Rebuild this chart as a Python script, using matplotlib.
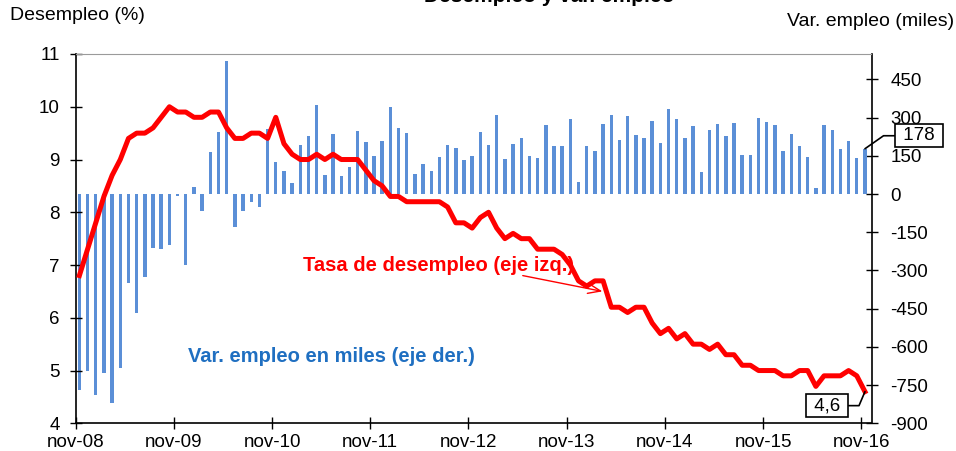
import numpy as np
import matplotlib
matplotlib.use('Agg')
import matplotlib.pyplot as plt

plt.rcParams['font.family'] = ['Liberation Sans', 'DejaVu Sans']
plt.rcParams['axes.unicode_minus'] = False

# monthly data, nov-08 .. nov-16
years = ['08', '09', '10', '11', '12', '13', '14', '15', '16']
tick_labels = ['nov-' + y for y in years]

# unemployment rate (%), left axis
unemp = [6.8, 7.3, 7.8, 8.3, 8.7, 9.0, 9.4, 9.5, 9.5, 9.6, 9.8, 10.0,
         9.9, 9.9, 9.8, 9.8, 9.9, 9.9, 9.6, 9.4, 9.4, 9.5, 9.5, 9.4,
         9.8, 9.3, 9.1, 9.0, 9.0, 9.1, 9.0, 9.1, 9.0, 9.0, 9.0, 8.8,
         8.6, 8.5, 8.3, 8.3, 8.2, 8.2, 8.2, 8.2, 8.2, 8.1, 7.8, 7.8,
         7.7, 7.9, 8.0, 7.7, 7.5, 7.6, 7.5, 7.5, 7.3, 7.3, 7.3, 7.2,
         7.0, 6.7, 6.6, 6.7, 6.7, 6.2, 6.2, 6.1, 6.2, 6.2, 5.9, 5.7,
         5.8, 5.6, 5.7, 5.5, 5.5, 5.4, 5.5, 5.3, 5.3, 5.1, 5.1, 5.0,
         5.0, 5.0, 4.9, 4.9, 5.0, 5.0, 4.7, 4.9, 4.9, 4.9, 5.0, 4.9,
         4.6]

# monthly change in employment (thousands), right axis
jobs = [-768, -693, -790, -703, -822, -683, -349, -467, -327, -210, -217, -199,
        -8, -277, 29, -66, 165, 243, 523, -131, -68, -33, -50, 257,
        125, 90, 44, 191, 229, 349, 76, 237, 72, 108, 248, 205,
        149, 209, 340, 259, 241, 77, 118, 89, 145, 193, 182, 133,
        150, 243, 193, 311, 137, 195, 220, 148, 141, 271, 187, 190,
        293, 47, 190, 170, 275, 311, 214, 307, 233, 220, 288, 201,
        333, 294, 222, 267, 86, 252, 275, 230, 279, 152, 152, 297,
        283, 272, 170, 234, 187, 145, 24, 272, 252, 178, 209, 142,
        178]

x = np.arange(len(unemp)) + 0.45

W, H = 956, 451
fig = plt.figure(figsize=(W / 100, H / 100), dpi=100)
ax = fig.add_axes([75.7 / W, 1 - 423.3 / H, (871.5 - 75.7) / W, (423.3 - 54) / H])
ax2 = ax.twinx()
ax.set_zorder(ax2.get_zorder() + 1)
ax.patch.set_visible(False)

ax2.bar(x, jobs, width=0.42, color='#5b8fd7', zorder=2)
ax.plot(x, unemp, color='#ff0000', lw=3.6, solid_joinstyle='round', zorder=3)

ax.set_xlim(0, 97.25)
ax.set_ylim(4, 11)
ax2.set_ylim(-900, 550)
ax.set_yticks(range(4, 12))
ax2.set_yticks(range(-900, 451, 150))
ax.set_xticks(range(0, 97, 12))
ax.set_xticklabels(tick_labels)

ax.tick_params(axis='y', direction='inout', length=9, width=1, labelsize=13.5, pad=7)
ax.tick_params(axis='x', direction='inout', length=9, width=1, labelsize=13.5, pad=3)
ax2.tick_params(axis='y', direction='inout', length=9, width=1, labelsize=13.5, pad=9)

ax.spines['top'].set_color('#9a9a9a')
ax.spines['right'].set_visible(False)
for s in ['left', 'bottom']:
    ax.spines[s].set_linewidth(1.2)
for s in ['left', 'top', 'bottom']:
    ax2.spines[s].set_visible(False)
ax2.spines['right'].set_linewidth(1.2)

# series labels
ax.text(27.8, 6.99, 'Tasa de desempleo (eje izq.)', color='#ff0000',
        fontsize=14.5, fontweight='bold', ha='left', va='center')
ax.text(13.7, 5.27, 'Var. empleo en miles (eje der.)', color='#1f6fc1',
        fontsize=14.5, fontweight='bold', ha='left', va='center')
ax.annotate('', xy=(64.7, 6.49), xytext=(54.3, 6.81),
            arrowprops=dict(arrowstyle='->,head_length=0.9,head_width=0.35',
                            color='#ff0000', lw=1))

# last values
ax2.annotate(' 178 ', xy=(x[-1], jobs[-1]), xytext=(54, 13), textcoords='offset pixels',
             fontsize=13.5, ha='center', va='center', annotation_clip=False,
             bbox=dict(boxstyle='square,pad=0.15', fc='white', ec='black', lw=1.2),
             arrowprops=dict(arrowstyle='-', color='black', lw=1.2,
                             connectionstyle='angle,angleA=0,angleB=35,rad=0',
                             shrinkA=0, shrinkB=0))
ax.annotate(' 4,6 ', xy=(x[-1], unemp[-1]), xytext=(-38, -14), textcoords='offset pixels',
            fontsize=13.5, ha='center', va='center', annotation_clip=False,
            bbox=dict(boxstyle='square,pad=0.15', fc='white', ec='black', lw=1.2),
            arrowprops=dict(arrowstyle='-', color='black', lw=1.2,
                            connectionstyle='angle,angleA=0,angleB=67,rad=0',
                            shrinkA=0, shrinkB=0))

# axis titles
fig.text(10 / W, 1 - 16 / H, 'Desempleo (%)', fontsize=14, ha='left', va='center')
fig.text(954 / W, 1 - 21 / H, 'Var. empleo (miles)', fontsize=14, ha='right', va='center')
# title, cut by the top edge in the original (only descenders show)
fig.text(424 / W, 1 - 2 / H, 'Desempleo y var. empleo', fontsize=15, fontweight='bold',
         ha='left', va='baseline')

fig.savefig('out.png', dpi=100)
